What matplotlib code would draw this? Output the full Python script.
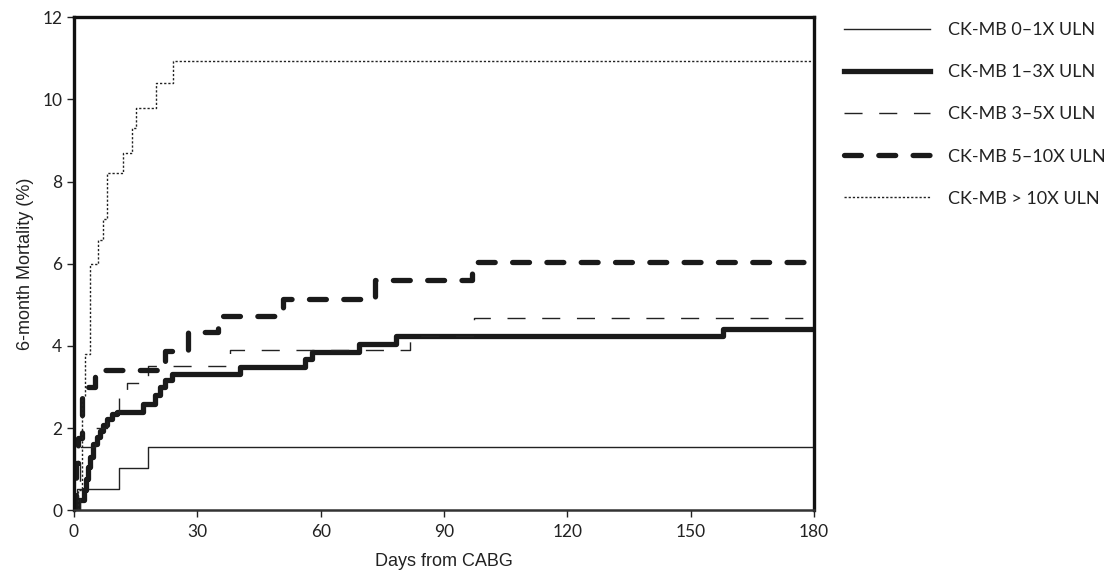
import matplotlib
matplotlib.use("Agg")
import matplotlib.pyplot as plt

# Kaplan-Meier style step data (days, cumulative mortality %)
days_0_1 = [0, 0.8, 11, 18.1, 180]
mort_0_1 = [0, 0.51, 1.03, 1.55, 1.55]

days_1_3 = [0, 1.0, 2.5, 3.0, 3.5, 3.9, 4.7, 5.5, 6.3, 7.1, 8.0, 9.2, 10.4,
            16.9, 19.7, 20.9, 22.1, 23.8, 40.4, 56.3, 58.0, 69.3, 78.3, 157.9, 180]
mort_1_3 = [0, 0.25, 0.5, 0.75, 1.05, 1.3, 1.6, 1.78, 1.93, 2.07, 2.23, 2.33, 2.39,
            2.58, 2.8, 3.0, 3.18, 3.31, 3.49, 3.69, 3.86, 4.05, 4.23, 4.42, 4.42]

days_3_5 = [0, 1.5, 5.1, 8.0, 11.0, 13.0, 18.0, 38.0, 81.8, 97.3, 180]
mort_3_5 = [0, 1.54, 2.0, 2.4, 2.85, 3.1, 3.5, 3.89, 4.25, 4.67, 4.67]

days_5_10 = [0, 0.4, 1.0, 2.0, 5.1, 22.1, 27.8, 35.0, 50.8, 73.3, 96.8, 180]
mort_5_10 = [0, 1.15, 1.75, 3.0, 3.42, 3.87, 4.33, 4.73, 5.15, 5.6, 6.03, 6.03]

days_10 = [0, 1.0, 1.9, 2.8, 4.0, 5.8, 7.1, 8.0, 12, 14, 15, 20, 24, 180]
mort_10 = [0, 0.5, 2.75, 3.8, 6.0, 6.57, 7.08, 8.2, 8.7, 9.3, 9.8, 10.4, 10.93, 10.93]

labels = ["CK-MB 0\u20131X ULN", "CK-MB 1\u20133X ULN", "CK-MB 3\u20135X ULN",
          "CK-MB 5\u201310X ULN", "CK-MB > 10X ULN"]

fig = plt.figure(figsize=(11.12, 5.72), dpi=100)
ax = fig.add_axes([0.0665, 0.108, 0.6655, 0.862])

ax.step(days_0_1, mort_0_1, where="post", color="#222222", lw=1.0, label=labels[0])
ax.step(days_1_3, mort_1_3, where="post", color="#1a1a1a", lw=3.8, label=labels[1])
ax.step(days_3_5, mort_3_5, where="post", color="#222222", lw=1.0,
        dashes=(13, 12), label=labels[2])
ax.step(days_5_10, mort_5_10, where="post", color="#1a1a1a", lw=3.8,
        dashes=(3.2, 3.3), dash_capstyle="round", label=labels[3])
ax.step(days_10, mort_10, where="post", color="#222222", lw=1.0,
        dashes=(1.6, 1.4), label=labels[4])

ax.set_xlim(0, 180)
ax.set_ylim(0, 12)
ax.set_xticks([0, 30, 60, 90, 120, 150, 180])
ax.set_yticks([0, 2, 4, 6, 8, 10, 12])
ax.tick_params(direction="out", length=5, width=1, colors="#222222",
               labelsize=12.5)
ax.tick_params(axis="x", pad=5)
for lab in ax.get_xticklabels() + ax.get_yticklabels():
    lab.set_family(["Lato", "DejaVu Sans"])

for side in ["left", "top", "right"]:
    ax.spines[side].set_linewidth(2.4)
    ax.spines[side].set_color("#111111")
ax.spines["bottom"].set_linewidth(1.8)
ax.spines["bottom"].set_color("#333333")

ax.set_xlabel("Days from CABG", fontsize=13, family="Liberation Sans",
              color="#222222", labelpad=9)
ax.set_ylabel("6-month Mortality (%)", fontsize=13, family="Liberation Sans",
              color="#222222", labelpad=6)

leg = ax.legend(loc="upper left", bbox_to_anchor=(0.744, 0.99),
                bbox_transform=fig.transFigure, frameon=False,
                handlelength=4.8, handletextpad=1.0, labelspacing=1.45,
                prop={"family": ["Lato", "DejaVu Sans"], "size": 13})
for t in leg.get_texts():
    t.set_color("#222222")

fig.savefig("out.png", dpi=100)
